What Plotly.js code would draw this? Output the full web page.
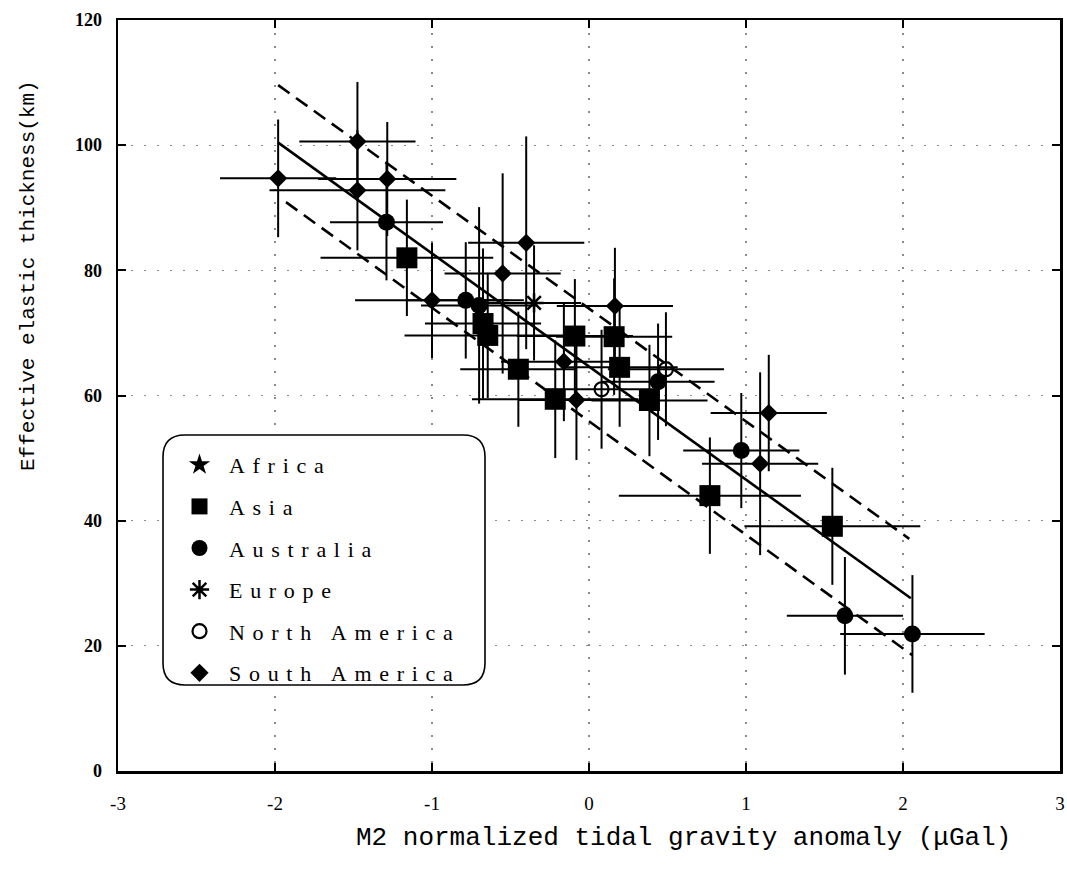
<!DOCTYPE html>
<html>
<head>
<meta charset="utf-8">
<script src="https://cdn.plot.ly/plotly-3.0.1.min.js"></script>
<style>
  html, body { margin: 0; padding: 0; background: #fff; }
  #chart { width: 1067px; height: 870px; }
  .legend .legendtext { letter-spacing: 7.7px; }
  .legend .scrollbox { clip-path: none !important; }
</style>
</head>
<body>
<div id="chart"></div>
<script>
// ---- Data ----
const xTickVals = [-3, -2, -1, 0, 1, 2, 3];
const yTickVals = [0, 20, 40, 60, 80, 100, 120];

const africaX = [null];
const africaY = [null];

const asiaX    = [-1.16, -0.675, -0.645, -0.45, -0.215, -0.09, 0.16, 0.195, 0.385, 0.77, 1.55];
const asiaY    = [82.0, 71.5, 69.6, 64.2, 59.4, 69.5, 69.4, 64.5, 59.2, 44.0, 39.1];
const asiaXErr = [0.55, 0.37, 0.53, 0.37, 0.53, 0.37, 0.37, 0.37, 0.37, 0.58, 0.56];
const asiaYErr = [9.3, 12, 10, 9.2, 9.4, 9.1, 9.3, 9.5, 8.9, 9.3, 9.35];

const australiaX    = [-1.29, -0.785, -0.70, 0.44, 0.97, 1.63, 2.06];
const australiaY    = [87.7, 75.2, 74.4, 62.2, 51.2, 24.8, 21.9];
const australiaXErr = [0.36, 0.37, 0.37, 0.36, 0.37, 0.37, 0.46];
const australiaYErr = [9.3, 9.3, 15.7, 9.3, 9.2, 9.4, 9.4];

const europeX    = [-0.35];
const europeY    = [74.8];
const europeXErr = [0.3];
const europeYErr = [9.2];

const northAmX    = [0.08, 0.49];
const northAmY    = [61.0, 64.2];
const northAmXErr = [0.37, 0.37];
const northAmYErr = [9.5, 9.1];

const southAmX    = [-1.98, -1.475, -1.475, -1.285, -1.0, -0.55, -0.40, -0.16, -0.08, 0.165, 1.09, 1.145];
const southAmY    = [94.7, 100.6, 92.8, 94.6, 75.2, 79.5, 84.4, 65.4, 59.3, 74.3, 49.1, 57.2];
const southAmXErr = [0.37, 0.37, 0.56, 0.44, 0.49, 0.37, 0.37, 0.4, 0.37, 0.37, 0.37, 0.37];
const southAmYErr = [9.4, 9.5, 9.6, 9.1, 9.2, 16, 17, 9.5, 9.6, 9.3, 14.6, 9.3];

const fitX   = [-1.98, 2.05];
const fitY   = [100.4, 27.6];
const upperX = [-1.98, 2.04];
const upperY = [109.6, 37.1];
const lowerX = [-1.93, 2.06];
const lowerY = [90.9, 18.5];

const seriesNames = ['Africa', 'Asia', 'Australia', 'Europe', 'North America', 'South America'];
const yTitle = 'Effective elastic thickness(km)';
const xTitle = 'M2 normalized tidal gravity anomaly (μGal)';

// ---- Styling / building ----
const serif = 'Liberation Serif, Times New Roman, serif';
const mono = 'Liberation Mono, DejaVu Sans Mono, monospace';

function errBar(arr) { return {type: 'data', array: arr, visible: true, color: '#000', thickness: 2, width: 0}; }

function lineTrace(x, y, dash) {
  return {x: x, y: y, mode: 'lines', type: 'scatter', showlegend: false, hoverinfo: 'skip',
          line: {color: '#000', width: 2.6, dash: dash}};
}

const traces = [
  lineTrace(fitX, fitY, 'solid'),
  lineTrace(upperX, upperY, '14px,8px'),
  lineTrace(lowerX, lowerY, '14px,8px'),
  {x: africaX, y: africaY, name: seriesNames[0], legendgroup: 'g0', mode: 'markers', type: 'scatter',
   marker: {symbol: 'star', size: 18, color: '#000'}},
  {x: asiaX, y: asiaY, name: seriesNames[1], legendgroup: 'g1', mode: 'markers', type: 'scatter',
   error_x: errBar(asiaXErr), error_y: errBar(asiaYErr),
   marker: {symbol: 'square', size: 21, color: '#000'}},
  {x: australiaX, y: australiaY, name: seriesNames[2], legendgroup: 'g2', mode: 'markers', type: 'scatter',
   error_x: errBar(australiaXErr), error_y: errBar(australiaYErr),
   marker: {symbol: 'circle', size: 17, color: '#000'}},
  {x: europeX, y: europeY, name: seriesNames[3], legendgroup: 'g3', mode: 'markers', type: 'scatter',
   error_x: errBar(europeXErr), error_y: errBar(europeYErr),
   marker: {symbol: 'asterisk-open', size: 16, color: '#000', line: {color: '#000', width: 2.5}}},
  {x: northAmX, y: northAmY, name: seriesNames[4], legendgroup: 'g4', mode: 'markers', type: 'scatter',
   error_x: errBar(northAmXErr), error_y: errBar(northAmYErr),
   marker: {symbol: 'circle-open', size: 14, color: '#000', line: {color: '#000', width: 2.2}}},
  {x: southAmX, y: southAmY, name: seriesNames[5], legendgroup: 'g5', mode: 'markers', type: 'scatter',
   error_x: errBar(southAmXErr), error_y: errBar(southAmYErr),
   marker: {symbol: 'diamond', size: 14, color: '#000'}}
];

// plot area in pixels: left 118, right 1060, top 20, bottom 771
const W = 1067, H = 870, L = 118, R = 7, T = 20, B = 99;
const pw = W - L - R, ph = H - T - B;
function px(x) { return (x - L) / pw; }
function py(y) { return (H - B - y) / ph; }

// rounded legend box
function roundRect(x0p, y0p, x1p, y1p, r) {
  const a = px(x0p), b = px(x1p), top = py(y0p), bot = py(y1p);
  const rx = r / pw, ry = r / ph;
  return 'M' + (a + rx) + ',' + top +
         ' L' + (b - rx) + ',' + top +
         ' Q' + b + ',' + top + ' ' + b + ',' + (top - ry) +
         ' L' + b + ',' + (bot + ry) +
         ' Q' + b + ',' + bot + ' ' + (b - rx) + ',' + bot +
         ' L' + (a + rx) + ',' + bot +
         ' Q' + a + ',' + bot + ' ' + a + ',' + (bot + ry) +
         ' L' + a + ',' + (top - ry) +
         ' Q' + a + ',' + top + ' ' + (a + rx) + ',' + top + ' Z';
}

const axisCommon = {
  showline: true, linecolor: '#000', linewidth: 2.5, mirror: 'ticks',
  ticks: 'inside', ticklen: 8, tickwidth: 2, tickcolor: '#000',
  showgrid: true, gridcolor: '#8a8a8a', gridwidth: 1.3, griddash: '2px,11px',
  zeroline: false, fixedrange: true
};

const layout = {
  width: W, height: H,
  margin: {l: L, r: R, t: T, b: B},
  paper_bgcolor: '#fff', plot_bgcolor: '#fff',
  showlegend: true,
  hovermode: false,
  xaxis: Object.assign({}, axisCommon, {
    range: [-3, 3], tickvals: xTickVals, ticktext: xTickVals.map(String),
    tickfont: {family: serif, size: 19, color: '#000'}, ticklabelstandoff: 14
  }),
  yaxis: Object.assign({}, axisCommon, {
    range: [0, 120], tickvals: yTickVals, ticktext: yTickVals.map(String),
    tickfont: {family: serif, size: 18, color: '#000', weight: 'bold'}, ticklabelstandoff: 10
  }),
  legend: {
    x: px(170), xanchor: 'left', y: py(444), yanchor: 'top',
    bgcolor: 'rgba(0,0,0,0)', borderwidth: 0,
    font: {family: serif, size: 22, color: '#000'},
    tracegroupgap: 10, itemwidth: 49, itemclick: false, itemdoubleclick: false
  },
  shapes: [{
    type: 'path', xref: 'paper', yref: 'paper', layer: 'above',
    path: roundRect(163, 435, 485, 685, 22),
    line: {color: '#000', width: 1.6}, fillcolor: '#fff'
  }],
  annotations: [
    {text: yTitle, xref: 'paper', yref: 'paper', x: px(28), y: py(276), textangle: -90,
     showarrow: false, xanchor: 'center', yanchor: 'middle',
     font: {family: mono, size: 21, color: '#000'}},
    {text: xTitle, xref: 'paper', yref: 'paper', x: px(683), y: py(838),
     showarrow: false, xanchor: 'center', yanchor: 'middle',
     font: {family: mono, size: 26, color: '#000'}}
  ]
};

Plotly.newPlot('chart', traces, layout, {displayModeBar: false, staticPlot: true});
</script>
</body>
</html>
